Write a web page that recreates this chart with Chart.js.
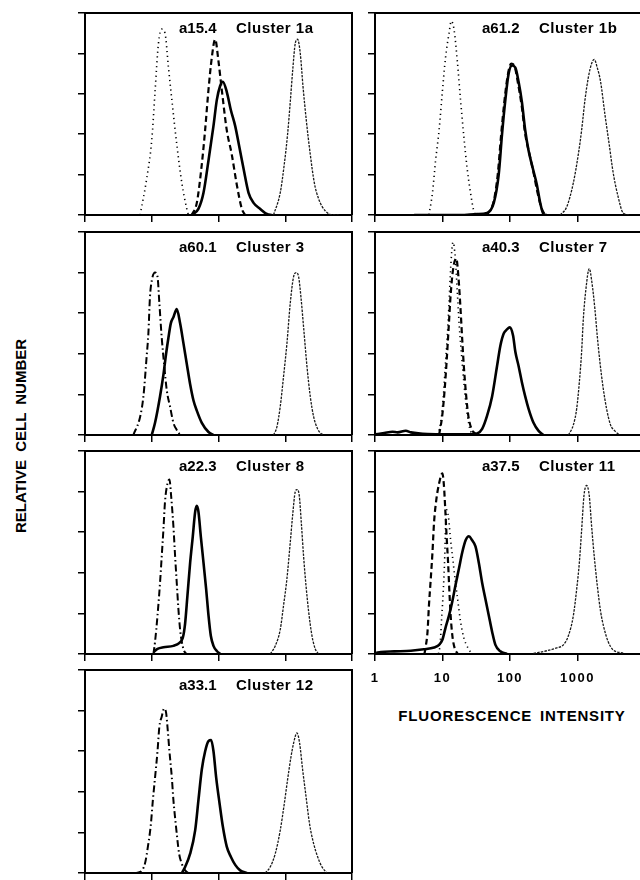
<!DOCTYPE html>
<html><head><meta charset="utf-8">
<script src="https://cdn.jsdelivr.net/npm/chart.js@4.4.1/dist/chart.umd.min.js"></script>
<style>
html,body{margin:0;padding:0;background:#fff;width:640px;height:880px;overflow:hidden;}
#fig{position:relative;width:640px;height:880px;overflow:hidden;background:#fff;}
#ytitle{position:absolute;left:20px;top:436px;transform:translate(-50%,-50%) rotate(-90deg);font:bold 15px "Liberation Sans",Arial,sans-serif;white-space:nowrap;word-spacing:4px;color:#000;}
#xtitle{position:absolute;left:512px;top:715px;transform:translate(-50%,-50%);font:bold 15px "Liberation Sans",Arial,sans-serif;letter-spacing:0.8px;word-spacing:3px;white-space:nowrap;color:#000;}
</style></head><body><div id="fig">
<div id="ytitle">RELATIVE CELL NUMBER</div>
<div id="xtitle">FLUORESCENCE INTENSITY</div>
</div>
<script>
// ---- axis ticks / labels ----
const xTicks = [1, 10, 100, 1000, 10000];
const xTickLabels = ['1', '10', '100', '1000', ''];
const yTicks = [0, 20, 40, 60, 80, 100];

// ---- panel titles ----
const antibodies = ['a15.4', 'a61.2', 'a60.1', 'a40.3', 'a22.3', 'a37.5', 'a33.1'];
const clusters = ['Cluster 1a', 'Cluster 1b', 'Cluster 3', 'Cluster 7', 'Cluster 8', 'Cluster 11', 'Cluster 12'];

// ---- histograms: [fluorescence intensity, relative cell number] ----
// Cluster 1a
const c1a_ctrl = [[6.7,0],[8.4,18],[10,37],[11.2,61],[12.6,85],[14.1,92],[15.8,90],[17.8,73],[20,57],[23.7,35],[28.2,16],[33.5,3],[35.5,0]];
const c1a_iso = [[39.8,0],[47.3,6],[56.2,25],[63,42],[70.8,62],[79.4,78],[89.1,87],[100,76],[112,62],[133,42],[158,30],[188,15],[224,3],[251,0]];
const c1a_mab = [[39.8,0],[50,3],[59.6,11],[70.8,27],[84,44],[94.4,57],[106,64],[116,66],[133,61],[153,52],[178,44],[207,33],[237,23],[282,11],[335,6],[422,3],[531,0.5],[631,0]];
const c1a_pos = [[668,0],[841,11],[966,25],[1084,40],[1189,56],[1303,73],[1413,85],[1531,87],[1679,80],[1841,64],[2065,47],[2371,30],[2723,16],[3162,8],[3981,2],[5309,0],[6310,0]];
// Cluster 1b
const c1b_ctrl = [[6.3,0],[7.1,11],[7.9,27],[8.9,42],[9.95,61],[11.1,78],[12.5,90],[13.5,96],[14.8,92],[16.6,76],[18.5,57],[20.7,39],[23.2,23],[26,11],[29.1,2],[31,0]];
const c1b_iso = [[45.7,0],[57.5,7],[65.8,20],[73.6,39],[82.4,56],[92.4,69],[104,75],[116,74],[130,66],[149,54],[168,40],[195,30],[223,21],[256,11],[296,3],[331,0]];
const c1b_mab = [[3.8,0],[18.5,0],[32.6,0.5],[45.7,1],[57.5,6],[68,20],[76.2,40],[85.3,57],[95.5,70],[107,74],[120,73],[134,66],[150,56],[168,42],[188,32],[218,23],[250,15],[280,6],[313,0.5],[351,0]];
const c1b_pos = [[552,0],[692,4],[869,16],[1028,30],[1151,42],[1291,57],[1445,68],[1618,75],[1771,77],[1960,73],[2198,66],[2543,50],[2946,35],[3373,21],[4000,9],[4742,1],[5943,0]];
// Cluster 3
const c3_ctrl = [[5.3,0],[6.7,9],[7.5,19],[8.4,39],[8.9,50],[9.4,68],[10,76],[11.2,80],[12.2,78],[13,65],[14.1,48],[15.3,35],[16.8,22],[18.8,14],[21.1,6],[23.7,2.5],[26.6,0]];
const c3_mab = [[10,0],[11.2,6],[13.3,19],[15,30],[16.4,40],[17.8,48],[19.3,55],[21.1,58],[23.7,62],[26.6,55],[29.9,45],[33.5,35],[37.6,25],[42.2,17],[47.3,12],[56.2,6],[70.8,1.5],[84.1,0]];
const c3_pos = [[668,0],[750,4],[841,14],[944,29],[1059,45],[1189,65],[1334,78],[1462,80],[1585,78],[1718,68],[1884,53],[2113,34],[2371,19],[2661,9],[3055,3],[3350,1],[3758,0]];
// Cluster 7
const c7_ctrl = [[8.4,0],[9.4,6],[10.3,19],[11,34],[11.8,49],[12.5,65],[13.2,82],[14.3,95],[15.5,87],[16.6,70],[17.7,54],[19.2,39],[20.7,26],[22.7,13],[25.4,3],[28.5,0]];
const c7_iso = [[8.9,0],[9.95,10],[10.8,23],[11.5,36],[12.3,52],[13.2,69],[14.4,82],[16,87],[17.3,77],[18.5,62],[19.6,47],[20.7,34],[22.2,21],[24,10],[26.9,3],[30.8,0.5]];
const c7_mab = [[1,0.3],[1.37,1],[1.82,1.6],[2.16,1.3],[2.86,2.1],[3.4,1.3],[6,0.5],[26,0.3],[32.6,0.7],[38.7,3],[45.8,9.5],[54.3,19],[64.3,34],[72,44],[80.7,50],[90.3,52],[98.9,53],[111,49],[120,41],[134,34],[150,26],[168,19],[188,13],[223,6],[265,2],[313,0]];
const c7_pos = [[733,0],[869,5],[973,13],[1065,26],[1151,41],[1219,57],[1334,72],[1493,82],[1637,75],[1811,62],[1960,49],[2148,36],[2404,23],[2692,13],[3083,5],[3573,2],[4236,0]];
// Cluster 8
const c8_ctrl = [[10.6,0],[11.2,6],[12.2,19],[13.3,35],[14.1,48],[15,62],[15.8,75],[17.2,84],[18.4,86],[19.5,78],[21.1,63],[22.4,48],[23.7,35],[25.1,22],[26.6,12],[28.2,6],[30.5,1.5],[33.5,0]];
const c8_mab = [[10.6,1],[12.2,2.5],[15,3.3],[21.1,4],[26,5.5],[29.2,8],[31.6,15],[34.3,29],[37.6,45],[41.2,58],[44.7,70],[47.3,73],[50.1,70],[54.3,58],[59.6,45],[65.3,32],[70.8,19],[76.7,9],[84.1,4],[94.4,1.5],[106,0]];
const c8_pos = [[596,0],[708,4],[841,12],[944,24],[1059,37],[1189,55],[1288,68],[1413,80],[1496,81],[1622,78],[1738,65],[1884,48],[2042,34],[2239,21],[2512,9],[2818,2.5],[3162,0]];
// Cluster 11
const c11_iso = [[5.4,0],[5.6,3],[6,11],[6.3,24],[6.7,37],[7.1,50],[7.5,65],[8.1,76],[8.9,84],[9.95,89],[10.5,83],[11,71],[11.5,58],[12.1,45],[12.6,32],[13.2,19],[14,9],[15.1,3],[16.9,0]];
const c11_ctrl = [[8.7,0],[9.2,4.5],[9.7,17],[10.3,32],[10.8,48],[11.1,63],[11.5,71],[12.2,68],[13.2,56],[14.4,45],[15.6,35],[16.9,26],[18.5,16],[20.7,8],[23.8,3],[27.5,0]];
const c11_mab = [[1.04,0.5],[1.22,1],[1.93,1.3],[3.4,1.6],[5.3,2.3],[7.5,3.2],[8.9,4.5],[9.95,7],[11.1,13],[12.5,19],[14,26],[15.6,34],[17.5,42],[19.6,50],[22,56],[24.6,58],[27.5,56],[30.8,53],[34.5,45],[38.7,35],[43.3,27],[48.5,19],[54.3,11],[60.8,4.5],[72,1.3],[90.3,0]];
const c11_pos = [[223,0.3],[351,1.6],[493,3],[618,4.5],[733,9],[869,19],[973,32],[1065,45],[1151,61],[1247,78],[1365,83],[1493,78],[1618,63],[1771,48],[1960,34],[2198,21],[2460,13],[2851,6],[3373,2],[4742,0.5]];
// Cluster 12
const c12_ctrl = [[5.6,0],[6.7,0.5],[7.9,4.6],[8.9,14.5],[9.7,24],[10.4,36],[11.2,47],[12.2,60],[13,72],[14.1,77],[15.3,81],[16.4,79],[17.2,72],[18.4,60],[20,47],[21.1,36],[22.9,24],[24.3,16],[25.7,9.5],[28.2,4.6],[31.6,1.3],[35.5,0]];
const c12_mab = [[28.2,0],[31.6,3],[37.6,9.5],[44.7,21],[50.1,36],[56.2,51],[63.1,60],[70.8,65],[77.6,65.5],[84.1,60],[92.3,47],[104,34],[116,23],[133,13],[153,8],[178,4],[211,1.3],[266,0]];
const c12_pos = [[501,0],[596,3],[708,9.5],[841,21],[966,34],[1084,46],[1216,57],[1334,64],[1496,69],[1641,64],[1820,51],[2042,38],[2317,24],[2661,14.5],[3055,8],[3548,3],[4217,0]];

const panelSeries = [
  [[c1a_ctrl,'dotted'],[c1a_pos,'pos'],[c1a_iso,'dashed'],[c1a_mab,'solid']],
  [[c1b_ctrl,'dotted'],[c1b_pos,'pos'],[c1b_iso,'dashed'],[c1b_mab,'solid']],
  [[c3_ctrl,'dashdot'],[c3_pos,'pos'],[c3_mab,'solid']],
  [[c7_ctrl,'dotted'],[c7_iso,'dashed'],[c7_pos,'pos'],[c7_mab,'solid']],
  [[c8_ctrl,'dashdot'],[c8_pos,'pos'],[c8_mab,'solid']],
  [[c11_ctrl,'dotted'],[c11_iso,'dashed'],[c11_pos,'pos'],[c11_mab,'solid']],
  [[c12_ctrl,'dashdot'],[c12_pos,'pos'],[c12_mab,'solid']]
];

// ---- layout (pixels) ----
const COL_LEFT = [85, 375], COL_W = [267, 270];
const ROW_TOP = [13, 232, 451, 670], ROW_H = [202, 203, 203, 203];
const GRID = [[0,0],[0,1],[1,0],[1,1],[2,0],[2,1],[3,0]];
const TITLE_OFF = [[94,151],[107,164]];
const LABELLED = 5;

const STY = {
  solid:  {borderWidth:2.6, borderDash:[], borderColor:'#000'},
  dotted: {borderWidth:1.6, borderDash:[1.2,3.6], borderColor:'#000'},
  dashed: {borderWidth:2.2, borderDash:[6,3.5], borderColor:'#000'},
  dashdot:{borderWidth:2.0, borderDash:[7,3,1.5,3], borderColor:'#000'},
  pos:    {borderWidth:1.3, borderDash:[2.5,1.2], borderColor:'#1a1a1a'}
};
const FONT = '"Liberation Sans", Arial, sans-serif';
const fig = document.getElementById('fig');

GRID.forEach(([r,c], i) => {
  const L = COL_LEFT[c], W = COL_W[c], T = ROW_TOP[r], H = ROW_H[r];
  const labelled = (i === LABELLED);
  const YW = 12, PT = 3, PR = 3, XH = labelled ? 40 : 12;
  const cv = document.createElement('canvas');
  cv.width = YW + W + PR; cv.height = PT + H + XH;
  cv.style.cssText = `position:absolute;left:${L-YW}px;top:${T-PT}px;width:${cv.width}px;height:${cv.height}px`;
  fig.appendChild(cv);
  const off = TITLE_OFF[c];
  const frame = {
    id: 'frame' + i,
    beforeDraw(chart) { chart.ctx.letterSpacing = '1.5px'; },
    afterDraw(chart) {
      const ctx = chart.ctx, a = chart.chartArea;
      ctx.save();
      ctx.strokeStyle = '#000'; ctx.lineWidth = 2;
      ctx.beginPath();
      ctx.moveTo(a.left, a.top); ctx.lineTo(a.right, a.top); ctx.lineTo(a.right, a.bottom);
      ctx.stroke();
      ctx.fillStyle = '#000';
      ctx.font = 'bold 15px ' + FONT;
      ctx.textBaseline = 'alphabetic'; ctx.textAlign = 'left';
      ctx.letterSpacing = '0px';
      ctx.fillText(antibodies[i], a.left + off[0], a.top + 20);
      ctx.letterSpacing = '0.5px';
      ctx.fillText(clusters[i], a.left + off[1], a.top + 20);
      ctx.restore();
    }
  };
  const gridOpt = {drawOnChartArea:false, drawTicks:true, tickLength:7, color:'#000', lineWidth:1.5};
  const borderOpt = {display:true, color:'#000', width:2};
  new Chart(cv, {
    type: 'line',
    data: {
      datasets: panelSeries[i].map(([pts, st]) => Object.assign({
        data: pts.map(([x, y]) => ({x, y})),
        pointRadius: 0, fill: false, cubicInterpolationMode: 'monotone', borderCapStyle: 'butt'
      }, STY[st]))
    },
    options: {
      responsive: false, animation: false, devicePixelRatio: 1,
      layout: {padding: {left:0, top:PT, right:PR, bottom:0}},
      plugins: {legend:{display:false}, tooltip:{enabled:false}, title:{display:false}},
      scales: {
        x: {
          type: 'logarithmic', min: 1, max: 10000, position: 'bottom',
          afterBuildTicks: s => { s.ticks = xTicks.map(v => ({value: v})); },
          afterFit: s => { s.height = XH; s.paddingLeft = 0; s.paddingRight = 0; },
          grid: gridOpt, border: borderOpt,
          ticks: {display: labelled, padding: 10, color: '#000', autoSkip: false, maxRotation: 0,
                  font: {family: FONT, size: 13, weight: 'bold'},
                  callback: (v, idx) => xTickLabels[idx]}
        },
        y: {
          type: 'linear', min: 0, max: 100, position: 'left',
          afterBuildTicks: s => { s.ticks = yTicks.map(v => ({value: v})); },
          afterFit: s => { s.width = YW; s.paddingTop = 0; s.paddingBottom = 0; },
          grid: gridOpt, border: borderOpt,
          ticks: {display: false}
        }
      }
    },
    plugins: [frame]
  });
});
</script>
</body></html>
